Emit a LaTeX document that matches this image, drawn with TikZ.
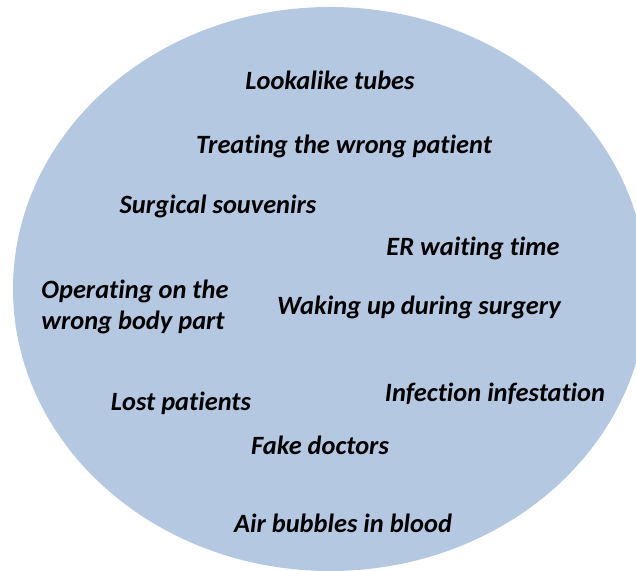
\documentclass[tikz,border=0pt]{standalone}
\usepackage{fontspec}
\setmainfont[Ligatures={NoCommon}]{Carlito}
\usepackage{xcolor}
\definecolor{bubble}{RGB}{181,200,226}

\begin{document}
\begin{tikzpicture}[x=1bp,y=-1bp,font=\fontsize{26.5}{31}\selectfont\bfseries\itshape,
  risk/.style={inner sep=0pt,align=left}]
\useasboundingbox (0,0) rectangle (636,571);
\begin{scope}
\clip (0,0) rectangle (636,571);
\fill[bubble] (330,289) ellipse[x radius=317,y radius=282];
\end{scope}
\node[risk] (tubes) at (330,80) {Lookalike tubes};
\node[risk] (patient) at (344,146) {Treating the wrong patient};
\node[risk] (souvenir) at (218,206) {Surgical souvenirs};
\node[risk] (wait) at (473,248) {ER waiting time};
\node[risk] (bodypart) at (135,307) {Operating on the\\wrong body part};
\node[risk] (awake) at (419,307) {Waking up during surgery};
\node[risk] (lost) at (181,403) {Lost patients};
\node[risk] (infect) at (495,394) {Infection infestation};
\node[risk] (fake) at (320,445) {Fake doctors};
\node[risk] (air) at (343,523) {Air bubbles in blood};
\end{tikzpicture}
\end{document}
